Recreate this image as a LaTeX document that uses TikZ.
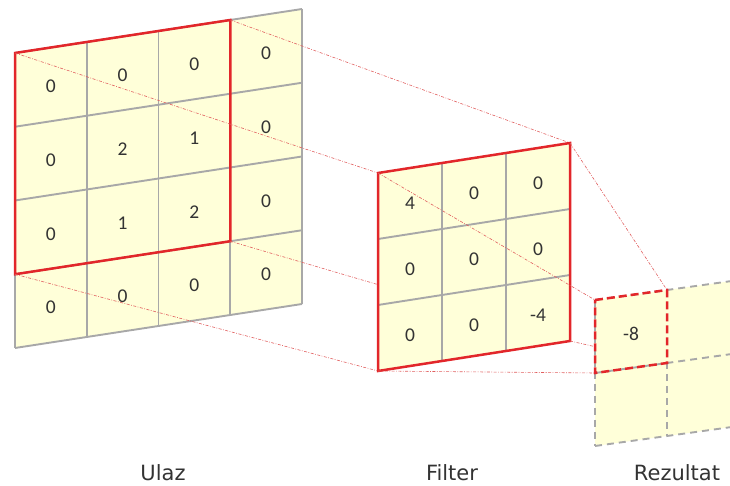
\documentclass[tikz,border=0pt]{standalone}
\usepackage{fontspec}
\setmainfont{DejaVu Sans}
\newfontfamily\cellfont{Carlito}
\definecolor{cellfill}{RGB}{255,255,217}
\definecolor{gridgray}{RGB}{168,168,168}
\definecolor{boxred}{RGB}{226,38,42}
\definecolor{projred}{RGB}{225,95,95}
\definecolor{txt}{RGB}{51,51,51}
\begin{document}
\begin{tikzpicture}[x=1pt,y=1pt,
  gridline/.style={draw=gridgray,line width=1.9pt},
  redbox/.style={draw=boxred,line width=2.5pt,line join=miter},
  proj/.style={draw=projred,line width=0.6pt,dash pattern=on 3pt off 1.5pt on 0.8pt off 1.5pt},
  dashgrid/.style={draw=gridgray,line width=1.9pt,dash pattern=on 7pt off 5pt},
  dashred/.style={draw=boxred,line width=2.5pt,dash pattern=on 8pt off 4pt},
  num/.style={font=\cellfont\fontsize{19.5}{19.5}\selectfont,text=txt,inner sep=0pt,yshift=-2pt},
  label/.style={font=\fontsize{21}{21}\selectfont,text=txt,anchor=base,inner sep=0pt}]
\useasboundingbox (0,0) rectangle (730,486);

% input matrix (4x4, padded)
\begin{scope}[shift={(15pt,433pt)},x={(71.75pt,11pt)},y={(0pt,-73.75pt)}]
  \fill[cellfill] (0,0) -- (4,0) -- (4,4) -- (0,4) -- cycle;
  \foreach \k in {0,...,4} {
    \draw[gridline] (\k,0) -- (\k,4);
    \draw[gridline] (0,\k) -- (4,\k);
  }
  \foreach \row [count=\j from 0] in {{0,0,0,0},{0,2,1,0},{0,1,2,0},{0,0,0,0}} {
    \foreach \v [count=\i from 0] in \row {
      \node[num] (in-\i-\j) at (\i+0.5,\j+0.5) {\v};
    }
  }
  \draw[redbox] (0,0) -- (3,0) -- (3,3) -- (0,3) -- cycle;
  \coordinate (in-tl) at (0,0);
  \coordinate (in-tr) at (3,0);
  \coordinate (in-br) at (3,3);
  \coordinate (in-bl) at (0,3);
\end{scope}

% filter corners
\begin{scope}[shift={(378pt,313pt)},x={(64pt,10pt)},y={(0pt,-66pt)}]
  \coordinate (f-tl) at (0,0);
  \coordinate (f-tr) at (3,0);
  \coordinate (f-br) at (3,3);
  \coordinate (f-bl) at (0,3);
\end{scope}

% output corners
\begin{scope}[shift={(595pt,186pt)},x={(72pt,10pt)},y={(0pt,-73pt)}]
  \coordinate (o-tl) at (0,0);
  \coordinate (o-tr) at (1,0);
  \coordinate (o-br) at (1,1);
  \coordinate (o-bl) at (0,1);
\end{scope}

% projection from input window to filter
\draw[proj] (in-tl) -- (f-tl);
\draw[proj] (in-tr) -- (f-tr);
\draw[proj] (in-br) -- (f-br);
\draw[proj] (in-bl) -- (f-bl);

% filter (3x3)
\begin{scope}[shift={(378pt,313pt)},x={(64pt,10pt)},y={(0pt,-66pt)}]
  \fill[cellfill] (0,0) -- (3,0) -- (3,3) -- (0,3) -- cycle;
  \foreach \k in {1,2} {
    \draw[gridline] (\k,0) -- (\k,3);
    \draw[gridline] (0,\k) -- (3,\k);
  }
  \foreach \row [count=\j from 0] in {{4,0,0},{0,0,0},{0,0,-4}} {
    \foreach \v [count=\i from 0] in \row {
      \node[num] (f-\i-\j) at (\i+0.5,\j+0.5) {\v};
    }
  }
  \draw[redbox] (0,0) -- (3,0) -- (3,3) -- (0,3) -- cycle;
\end{scope}

% projection from filter to output cell
\draw[proj] (f-tl) -- (o-tl);
\draw[proj] (f-tr) -- (o-tr);
\draw[proj] (f-br) -- (o-br);
\draw[proj] (f-bl) -- (o-bl);

% output (2x2, first cell computed)
\begin{scope}[shift={(595pt,186pt)},x={(72pt,10pt)},y={(0pt,-73pt)}]
  \fill[cellfill] (0,0) -- (2,0) -- (2,2) -- (0,2) -- cycle;
  \foreach \k in {0,1,2} {
    \draw[dashgrid] (\k,0) -- (\k,2);
    \draw[dashgrid] (0,\k) -- (2,\k);
  }
  \draw[dashred] (0,0) -- (1,0) -- (1,1) -- (0,1) -- cycle;
  \node[num] (o-0-0) at (0.5,0.5) {-8};
\end{scope}

% captions
\node[label] (ulaz) at (163,5) {Ulaz};
\node[label] (filter) at (452,5) {Filter};
\node[label] (rezultat) at (677,5) {Rezultat};
\end{tikzpicture}
\end{document}
